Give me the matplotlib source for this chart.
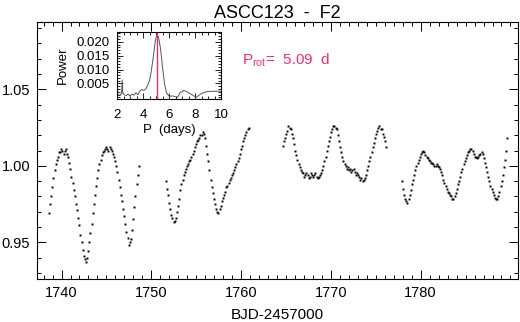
"""
light curve of ASCC123 with inset periodogram
output: out.png
"""

import numpy as np
import matplotlib

matplotlib.use("Agg")
import matplotlib.pyplot as plt
from matplotlib.ticker import MultipleLocator, FixedLocator

plt.rcParams["font.family"] = ["Liberation Sans", "DejaVu Sans"]
plt.rcParams["mathtext.fontset"] = "custom"
plt.rcParams["mathtext.rm"] = "Liberation Sans"


# -- DATA --
TITLE = "ASCC123  -  F2"
XLABEL = "BJD-2457000"
PROT = 5.09
CADENCE = 0.125  # days between points in each segment
xticks = [1740, 1750, 1760, 1770, 1780]

seg_start = [1738.60, 1751.60, 1764.65, 1777.90]

flux_1 = [0.969, 0.975, 0.980, 0.986, 0.992, 0.997, 1.001, 1.004, 1.006, 1.009,
          1.009, 1.011, 1.010, 1.008, 1.010, 1.011, 1.008, 1.006, 1.002, 0.998,
          0.993, 0.989, 0.984, 0.980, 0.975, 0.971, 0.966, 0.961, 0.955, 0.950,
          0.945, 0.941, 0.939, 0.937, 0.940, 0.944, 0.950, 0.956, 0.962, 0.969,
          0.975, 0.981, 0.987, 0.992, 0.997, 1.001, 1.004, 1.007, 1.009, 1.010,
          1.011, 1.012, 1.011, 1.010, 1.012, 1.011, 1.010, 1.008, 1.006, 1.003,
          1.000, 0.996, 0.991, 0.986, 0.981, 0.977, 0.972, 0.967, 0.962, 0.957,
          0.953, 0.948, 0.950, 0.952, 0.958, 0.965, 0.973, 0.980, 0.988, 0.994,
          1.000]
flux_2 = [0.990, 0.985, 0.981, 0.976, 0.972, 0.968, 0.966, 0.963, 0.964, 0.966,
          0.970, 0.974, 0.978, 0.984, 0.988, 0.991, 0.994, 0.996, 0.998, 1.000,
          1.001, 1.003, 1.004, 1.006, 1.008, 1.010, 1.012, 1.014, 1.016, 1.017,
          1.018, 1.020, 1.020, 1.022, 1.021, 1.018, 1.013, 1.008, 1.003, 0.997,
          0.991, 0.986, 0.982, 0.978, 0.975, 0.972, 0.970, 0.969, 0.972, 0.974,
          0.977, 0.979, 0.981, 0.983, 0.986, 0.987, 0.989, 0.991, 0.992, 0.994,
          0.995, 0.997, 0.999, 1.001, 1.003, 1.005, 1.008, 1.011, 1.013, 1.016,
          1.018, 1.020, 1.022, 1.024, 1.025]
flux_3 = [1.013, 1.016, 1.018, 1.021, 1.023, 1.026, 1.025, 1.024, 1.021, 1.018,
          1.014, 1.010, 1.007, 1.004, 1.001, 0.999, 0.997, 0.996, 0.995, 0.993,
          0.994, 0.995, 0.994, 0.992, 0.993, 0.995, 0.994, 0.993, 0.994, 0.995,
          0.993, 0.992, 0.993, 0.994, 0.995, 0.997, 1.000, 1.003, 1.006, 1.010,
          1.013, 1.016, 1.019, 1.022, 1.024, 1.026, 1.026, 1.025, 1.024, 1.020,
          1.016, 1.012, 1.009, 1.006, 1.003, 1.001, 1.000, 0.998, 0.999, 0.997,
          0.998, 0.996, 0.997, 0.998, 0.996, 0.994, 0.995, 0.994, 0.993, 0.991,
          0.992, 0.990, 0.991, 0.992, 0.994, 0.997, 1.000, 1.003, 1.006, 1.009,
          1.012, 1.015, 1.018, 1.021, 1.023, 1.025, 1.026, 1.024, 1.024, 1.021,
          1.019, 1.016, 1.012]
flux_4 = [0.990, 0.985, 0.981, 0.978, 0.977, 0.976, 0.978, 0.981, 0.984, 0.988,
          0.991, 0.994, 0.997, 1.000, 1.002, 1.004, 1.006, 1.008, 1.009, 1.010,
          1.009, 1.007, 1.006, 1.005, 1.004, 1.003, 1.002, 1.002, 1.001, 1.000,
          1.000, 1.001, 1.000, 0.999, 0.998, 0.996, 0.994, 0.991, 0.989, 0.987,
          0.985, 0.983, 0.982, 0.981, 0.980, 0.978, 0.978, 0.980, 0.982, 0.985,
          0.988, 0.990, 0.993, 0.996, 0.998, 1.001, 1.003, 1.005, 1.007, 1.009,
          1.010, 1.011, 1.011, 1.010, 1.008, 1.006, 1.006, 1.005, 1.006, 1.007,
          1.008, 1.009, 1.008, 1.005, 1.002, 0.999, 0.996, 0.993, 0.990, 0.987,
          0.985, 0.983, 0.981, 0.979, 0.978, 0.978, 0.980, 0.983, 0.987, 0.990,
          0.994, 0.999, 1.004, 1.010, 1.018]

period = [2.00, 2.20, 2.35, 2.40, 2.45, 2.55, 2.70, 2.85, 3.00, 3.15, 3.30,
          3.45, 3.60, 3.75, 3.90, 4.05, 4.20, 4.35, 4.50, 4.65, 4.80, 4.95,
          5.09, 5.20, 5.35, 5.50, 5.65, 5.80, 6.00, 6.30, 6.65, 6.85, 7.10,
          7.40, 7.70, 8.10, 8.40, 8.70, 9.00, 9.50, 10.00]
power = [0.0010, 0.0008, 0.0012, 0.0062, 0.0015, 0.0010, 0.0006, 0.0012,
         0.0005, 0.0011, 0.0008, 0.0016, 0.0010, 0.0022, 0.0028, 0.0025,
         0.0030, 0.0042, 0.0060, 0.0098, 0.0150, 0.0205, 0.0228, 0.0215,
         0.0175, 0.0110, 0.0050, 0.0018, 0.0004, 0.0005, 0.0000, 0.0016,
         0.0025, 0.0020, 0.0011, 0.0000, 0.0011, 0.0018, 0.0021, 0.0022,
         0.0022]

PINK = "#e8306f"


# -- MAIN PANEL --
fig = plt.figure(figsize=(5.2, 3.22), dpi=100)
ax = fig.add_axes([0.0717, 0.1335, 0.9238, 0.7982])

for t0, flux in zip(seg_start, [flux_1, flux_2, flux_3, flux_4]):
    t = t0 + CADENCE * np.arange(len(flux))
    ax.plot(t, flux, ls="none", marker="s", ms=1.4, mec="none", color="black")

ax.set_xlim(1737.3, 1790.8)
ax.set_ylim(0.926, 1.094)
ax.xaxis.set_major_locator(FixedLocator(xticks))
ax.xaxis.set_minor_locator(MultipleLocator(1))
ax.yaxis.set_major_locator(MultipleLocator(0.05))
ax.yaxis.set_minor_locator(MultipleLocator(0.01))
ax.yaxis.set_major_formatter(plt.FuncFormatter(lambda v, p: f"{v:.2f}"))
ax.tick_params(which="both", direction="in", top=True, right=True, width=0.7,
               labelsize=10.5, pad=5)
ax.tick_params(which="major", length=6.5)
ax.tick_params(which="minor", length=3)
for s in ax.spines.values():
    s.set_linewidth(0.8)

fig.text(0.534, 1 - 13 / 322, TITLE, ha="center", va="center", fontsize=13)
fig.text(0.534, 1 - 315 / 322, XLABEL, ha="center", va="center", fontsize=11)

fig.text(242 / 520, 1 - 60 / 322, r"P$_{\rm rot}$=  " + f"{PROT:.2f}  d",
         ha="left", va="center", fontsize=11, color=PINK)


# -- INSET PERIODOGRAM --
axi = fig.add_axes([0.225, 0.6925, 0.2, 0.208])
axi.plot(period, power, color="#555555", lw=0.7)
axi.axvline(PROT, color=PINK, lw=1.0)
axi.set_xlim(2, 10)
axi.set_ylim(-0.0006, 0.0235)
axi.xaxis.set_major_locator(MultipleLocator(2))
axi.xaxis.set_minor_locator(MultipleLocator(0.5))
axi.yaxis.set_minor_locator(MultipleLocator(0.001))
axi.set_yticks([0.005, 0.010, 0.015, 0.020])
axi.yaxis.set_major_formatter(plt.FuncFormatter(lambda v, p: f"{v:.3f}"))
axi.tick_params(which="both", direction="in", top=True, right=True, width=0.6,
                labelsize=9.5)
axi.tick_params(axis="x", pad=7)
axi.tick_params(axis="y", pad=5)
axi.tick_params(which="major", length=4)
axi.tick_params(which="minor", length=2)
axi.set_xlabel("P  (days)", fontsize=9.5, labelpad=2)
axi.set_ylabel("Power", fontsize=9.5, labelpad=6)
for s in axi.spines.values():
    s.set_linewidth(0.8)

fig.savefig("out.png", dpi=100)
plt.close()
